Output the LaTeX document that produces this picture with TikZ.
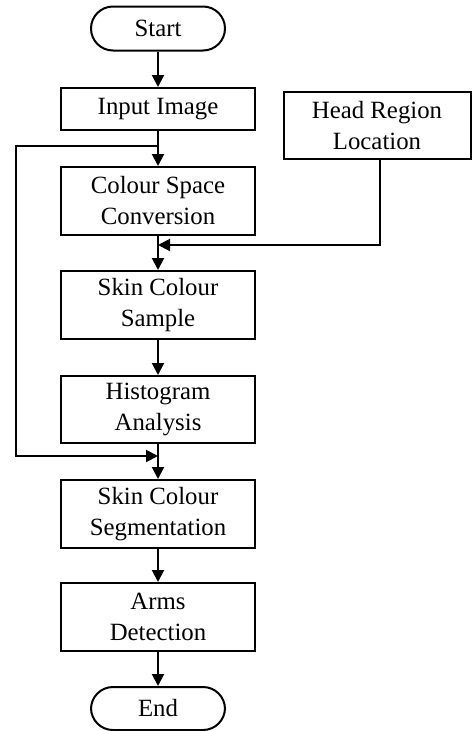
\documentclass[tikz,border=0pt]{standalone}
\usepackage{fontspec}
\setmainfont{Liberation Serif}
\usetikzlibrary{arrows.meta}
\begin{document}
\begin{tikzpicture}[x=1pt,y=-1pt,
  box/.style={draw,line width=2pt,inner sep=0pt,align=center,minimum width=194pt,minimum height=68pt,font=\fontsize{24.8}{31}\selectfont},
  term/.style={draw,line width=2pt,inner sep=0pt,align=center,minimum width=134pt,minimum height=44pt,rounded corners=22pt,font=\fontsize{24.8}{31}\selectfont},
  arr/.style={line width=2pt,-{Triangle[length=12pt,width=12pt]}}]
\useasboundingbox (0,0) rectangle (472,731);
\node[term] (start) at (158,28.5) {Start};
\node[box,minimum height=42pt] (input) at (158,109) {Input Image};
\node[box,minimum width=187pt,minimum height=67pt] (head) at (377,125.5) {Head Region\\Location};
\node[box] (cs) at (158,201) {Colour Space\\Conversion};
\node[box] (scs) at (158,305) {Skin Colour\\Sample};
\node[box,minimum height=67pt] (hist) at (158,409.5) {Histogram\\Analysis};
\node[box] (seg) at (158,514) {Skin Colour\\Segmentation};
\node[box] (arms) at (158,617) {Arms\\Detection};
\node[term,minimum height=43pt] (end) at (158,708.5) {End};
\coordinate (j1) at (158,146);
\coordinate (j2) at (158,456);
\coordinate (j3) at (158,245);
\coordinate (h1) at (380,159);
\draw[arr] (start) -- (input);
\draw[arr] (input) -- (cs);
\draw[arr] (cs) -- (scs);
\draw[arr] (scs) -- (hist);
\draw[arr] (hist) -- (seg);
\draw[arr] (seg) -- (arms);
\draw[arr] (arms) -- (end);
\draw[arr] (j1) -- (16,146) -- (16,456) -- (j2);
\draw[arr] (h1) |- (j3);
\end{tikzpicture}
\end{document}
